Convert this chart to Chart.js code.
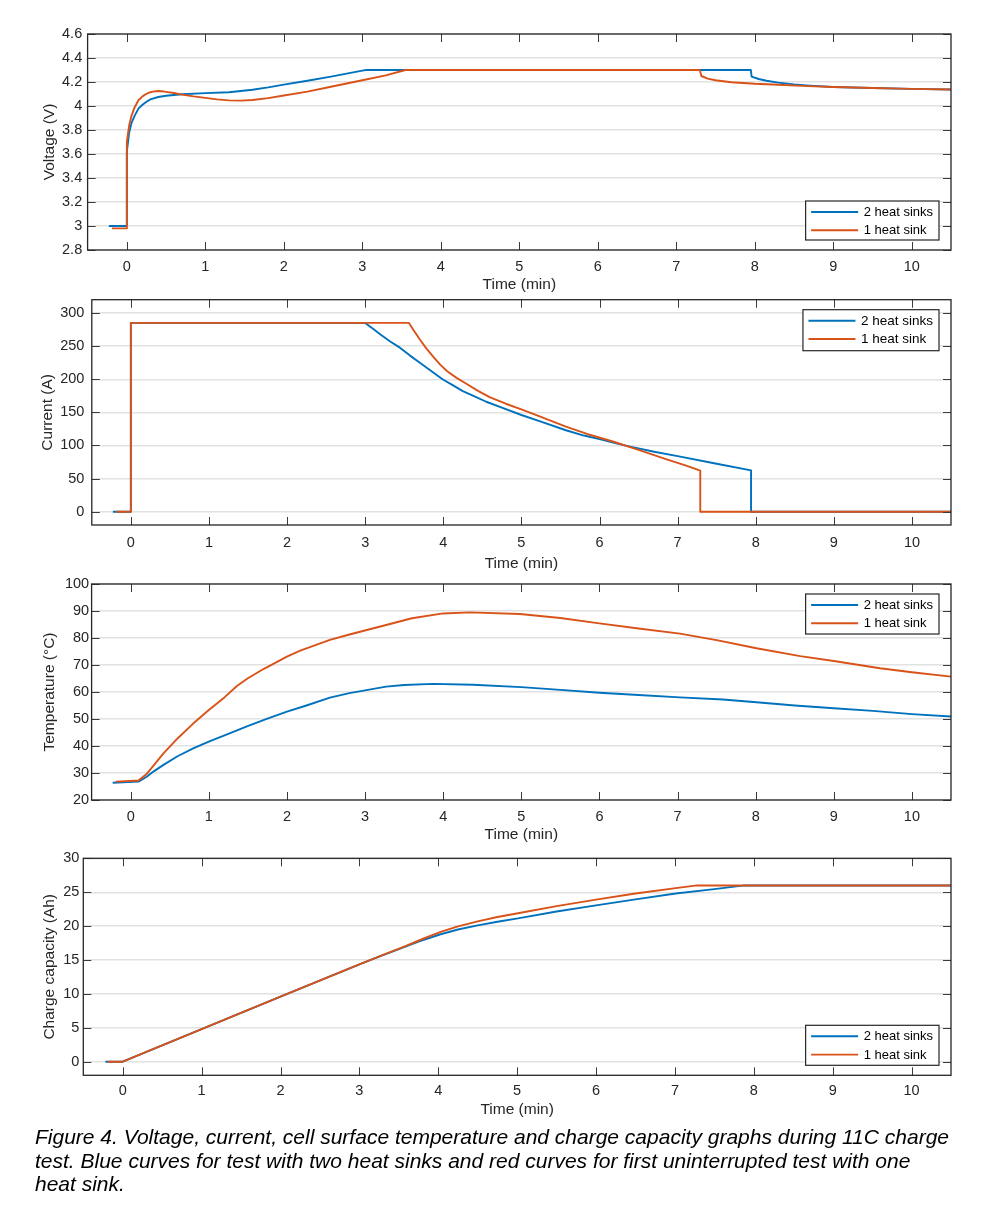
<!DOCTYPE html>
<html><head><meta charset="utf-8">
<script src="https://cdn.jsdelivr.net/npm/chart.js@4.4.1/dist/chart.umd.min.js"></script>
<style>
html,body{margin:0;padding:0;background:#fff;width:1002px;height:1211px;overflow:hidden;}
.c{position:absolute;left:0;width:1002px;}
#cap{position:absolute;left:35px;top:1125px;font:italic 21px "Liberation Sans",Arial,sans-serif;line-height:23.6px;color:#000;white-space:nowrap;}
</style></head><body>
<div class="c" style="top:14px;height:286px"><canvas id="c1"></canvas></div>
<div class="c" style="top:280px;height:299px"><canvas id="c2"></canvas></div>
<div class="c" style="top:564px;height:286px"><canvas id="c3"></canvas></div>
<div class="c" style="top:838px;height:287px"><canvas id="c4"></canvas></div>
<div id="cap">Figure 4. Voltage, current, cell surface temperature and charge capacity graphs during 11C charge<br>test. Blue curves for test with two heat sinks and red curves for first uninterrupted test with one<br>heat sink.</div>
<script>
// ---------- data ----------
const seriesNames = ['2 heat sinks', '1 heat sink'];
const xTicks = [0,1,2,3,4,5,6,7,8,9,10];
const xTickLabels = ['0','1','2','3','4','5','6','7','8','9','10'];

// Voltage (V)
const vTicks = [2.8,3,3.2,3.4,3.6,3.8,4,4.2,4.4,4.6];
const vTickLabels = ['2.8','3','3.2','3.4','3.6','3.8','4','4.2','4.4','4.6'];
const tV2 = [-0.23,0,0,0.03,0.06,0.1,0.15,0.2,0.25,0.3,0.4,0.5,0.7,1.0,1.3,1.6,1.8,2.0,2.3,2.6,2.8,3.0,3.05,7.95,7.96,8.05,8.15,8.3,8.5,8.7,9.0,9.5,10.0,10.5];
const vV2 = [3.00,3.00,3.62,3.78,3.86,3.92,3.98,4.01,4.035,4.055,4.075,4.085,4.098,4.107,4.115,4.135,4.155,4.178,4.21,4.245,4.27,4.295,4.30,4.30,4.245,4.225,4.21,4.195,4.18,4.17,4.158,4.15,4.143,4.138];
const tV1 = [-0.19,0,0,0.03,0.06,0.1,0.15,0.2,0.25,0.3,0.35,0.4,0.45,0.5,0.6,0.7,0.85,1.0,1.15,1.3,1.45,1.6,1.8,2.0,2.3,2.6,3.0,3.3,3.55,7.30,7.32,7.4,7.5,7.7,8.0,8.3,8.6,9.0,9.5,10.0,10.5];
const vV1 = [2.98,2.98,3.70,3.84,3.92,3.99,4.05,4.08,4.102,4.115,4.122,4.125,4.123,4.118,4.108,4.095,4.08,4.068,4.055,4.047,4.045,4.05,4.066,4.087,4.12,4.16,4.215,4.255,4.30,4.30,4.25,4.228,4.215,4.198,4.185,4.177,4.168,4.158,4.15,4.143,4.138];

// Current (A)
const iTicks = [0,50,100,150,200,250,300];
const iTickLabels = ['0','50','100','150','200','250','300'];
const tI2 = [-0.23,0,0,3.0,3.1,3.2,3.32,3.44,3.57,3.7,3.85,3.99,4.12,4.25,4.4,4.55,4.75,5.0,5.25,5.57,5.8,6.0,6.2,6.42,6.7,7.0,7.5,7.94,7.94,10.5];
const iI2 = [0,0,285,285,276,267,257,248,236,225,212,200,191,182,174,166,157,146,136,123,115,109.5,103.5,97.5,90.5,84,72.5,62.5,0,0];
const tI1 = [-0.19,0,0,3.56,3.62,3.7,3.78,3.87,3.96,4.05,4.17,4.29,4.45,4.6,4.8,5.0,5.25,5.57,5.85,6.17,6.5,6.85,7.1,7.29,7.29,10.5];
const iI1 = [0,0,285,285,274,260,247,234,222,212,202,193.5,182,172.5,163,154.5,143,128.5,117,106,93.5,79.5,70,62,0,0];

// Temperature (°C)
const tempTicks = [20,30,40,50,60,70,80,90,100];
const tempTickLabels = ['20','30','40','50','60','70','80','90','100'];
const tT2 = [-0.23,0.1,0.2,0.3,0.42,0.6,0.8,1.0,1.25,1.48,1.75,2.0,2.25,2.55,2.8,3.0,3.27,3.5,3.87,4.38,5.0,5.5,6.0,6.5,7.03,7.58,8.01,8.5,9.0,9.5,10.0,10.5];
const T2 = [26.4,26.8,28.5,30.7,33,36.2,39.1,41.6,44.5,47.2,50.1,52.7,55,57.9,59.6,60.6,62,62.6,63,62.7,61.8,60.8,59.7,58.9,58,57.2,56.2,55,54,53,51.8,50.9];
const tT1 = [-0.19,0.1,0.2,0.3,0.42,0.6,0.8,1.0,1.2,1.36,1.5,1.7,2.0,2.17,2.55,2.8,3.27,3.6,4.0,4.34,4.98,5.5,6.0,6.5,7.03,7.5,8.01,8.57,9.0,9.59,10.0,10.5];
const T1 = [26.8,27.2,29.5,33,37.3,42.8,48.3,53.3,58.0,62.2,65.1,68.5,73.1,75.3,79.3,81.3,84.8,87.3,89.1,89.5,88.9,87.4,85.4,83.5,81.6,79.2,76.2,73.3,71.5,68.8,67.3,65.7];

// Charge capacity (Ah)
const qTicks = [0,5,10,15,20,25,30];
const qTickLabels = ['0','5','10','15','20','25','30'];
const tQ2 = [-0.22,0,1,2,3.0,3.25,3.5,3.75,4.03,4.25,4.5,4.75,5.01,5.5,6.02,6.5,7.01,7.5,7.88,10.5];
const Q2 = [0,0,4.8,9.6,14.35,15.5,16.6,17.7,18.8,19.5,20.1,20.65,21.15,22.15,23.1,23.95,24.8,25.45,26.0,26.0];
const tQ1 = [-0.19,0,1,2,3,3.3,3.56,3.8,4.03,4.25,4.5,4.75,5.01,5.5,6.02,6.5,7.01,7.28,10.5];
const Q1 = [0,0,4.8,9.6,14.35,15.75,16.95,18.1,19.15,19.95,20.7,21.35,21.9,22.95,23.95,24.8,25.6,26.0,26.0];

// ---------- styling ----------
const BLUE = '#0072BD', RED = '#D95319', TXT = '#262626', FONT = '"Liberation Sans", Arial, sans-serif';
const zip = (xs, ys) => xs.map((x, i) => ({x, y: ys[i]}));

const boxPlugin = {
  id: 'matbox',
  afterDatasetsDraw(chart, args, o) {
    const {ctx, chartArea: a, scales: {x, y}} = chart;
    ctx.save();
    ctx.strokeStyle = '#3a3a3a';
    ctx.lineWidth = 1;
    ctx.beginPath();
    x.ticks.forEach(t => {
      const p = Math.round(x.getPixelForValue(t.value)) + 0.5;
      ctx.moveTo(p, a.bottom); ctx.lineTo(p, a.bottom - 8);
      ctx.moveTo(p, a.top); ctx.lineTo(p, a.top + 8);
    });
    y.ticks.forEach(t => {
      const p = Math.round(y.getPixelForValue(t.value)) + 0.5;
      ctx.moveTo(a.left, p); ctx.lineTo(a.left + 8, p);
      ctx.moveTo(a.right, p); ctx.lineTo(a.right - 8, p);
    });
    ctx.stroke();
    ctx.strokeStyle = '#262626';
    ctx.lineWidth = 1.3;
    ctx.strokeRect(a.left, a.top, a.right - a.left, a.bottom - a.top);
    // legend
    ctx.font = o.fontSize + 'px ' + FONT;
    const ds = chart.data.datasets;
    let tw = 0;
    ds.forEach(d => { tw = Math.max(tw, ctx.measureText(d.label).width); });
    const w = 58 + tw + 6, h = o.h;
    const bx = a.right - 12 - w;
    const by = o.pos === 'top' ? a.top + 10 : a.bottom - 10 - h;
    ctx.fillStyle = '#fff';
    ctx.fillRect(bx, by, w, h);
    ctx.strokeStyle = '#262626';
    ctx.lineWidth = 1.2;
    ctx.strokeRect(bx, by, w, h);
    ds.forEach((d, i) => {
      const yy = by + 11 + i * 18.3;
      ctx.strokeStyle = d.borderColor;
      ctx.lineWidth = 1.9;
      ctx.beginPath(); ctx.moveTo(bx + 5.5, yy); ctx.lineTo(bx + 52.5, yy); ctx.stroke();
      ctx.fillStyle = '#000';
      ctx.textBaseline = 'middle';
      ctx.textAlign = 'left';
      ctx.fillText(d.label, bx + 58, yy + 0.5);
    });
    ctx.restore();
  }
};

function makeChart(id, c) {
  return new Chart(document.getElementById(id), {
    type: 'scatter',
    data: {datasets: [
      {label: seriesNames[0], data: zip(c.t2, c.v2), borderColor: BLUE, backgroundColor: BLUE, showLine: true, order: 1},
      {label: seriesNames[1], data: zip(c.t1, c.v1), borderColor: RED, backgroundColor: RED, showLine: true, order: 0}
    ]},
    options: {
      responsive: true, maintainAspectRatio: false, animation: false, events: [],
      devicePixelRatio: 1,
      layout: {padding: {top: c.padTop, right: 51, left: 0, bottom: 0}},
      elements: {point: {radius: 0}, line: {borderWidth: 1.9, tension: 0, fill: false, borderJoinStyle: 'round'}},
      plugins: {legend: {display: false}, tooltip: {enabled: false},
        matbox: {pos: c.legPos, h: c.legH, fontSize: c.legFont}},
      scales: {
        x: {type: 'linear', min: -0.5, max: 10.5,
          afterBuildTicks: s => { s.ticks = xTicks.map(v => ({value: v})); },
          afterFit: s => { s.height = c.xH; },
          grid: {display: false, drawTicks: false}, border: {display: false},
          ticks: {padding: c.xPad, color: TXT, autoSkip: false, maxRotation: 0,
            font: {family: FONT, size: 14.5}, callback: (v, i) => xTickLabels[i]},
          title: {display: true, text: 'Time (min)', color: TXT,
            font: {family: FONT, size: 15.5}, padding: {top: 0, bottom: 5.7}}},
        y: {type: 'linear', min: c.ymin, max: c.ymax,
          afterBuildTicks: s => { s.ticks = c.yt.map(v => ({value: v})); },
          afterFit: s => { s.width = c.left; },
          grid: {color: '#e2e2e2', lineWidth: 1.4, drawTicks: false}, border: {display: false},
          ticks: {padding: c.yPad, color: TXT, autoSkip: false,
            font: {family: FONT, size: 14.5}, callback: (v, i) => c.yl[i]},
          title: {display: true, text: c.ytitle, color: TXT,
            font: {family: FONT, size: 15.5}, padding: {top: c.yTitlePad, bottom: 0}}}
      }
    },
    plugins: [boxPlugin]
  });
}

makeChart('c1', {t2: tV2, v2: vV2, t1: tV1, v1: vV1, ymin: 2.8, ymax: 4.6, yt: vTicks, yl: vTickLabels,
  ytitle: 'Voltage (V)', padTop: 20, xH: 50, left: 87.6, xPad: 8, yPad: 5.4, yTitlePad: 40.7,
  legPos: 'bottom', legH: 39, legFont: 13});
makeChart('c2', {t2: tI2, v2: iI2, t1: tI1, v1: iI1, ymin: -20, ymax: 320, yt: iTicks, yl: iTickLabels,
  ytitle: 'Current (A)', padTop: 19.7, xH: 54, left: 91.8, xPad: 9.6, yPad: 7.4, yTitlePad: 38.2,
  legPos: 'top', legH: 41, legFont: 13.5});
makeChart('c3', {t2: tT2, v2: T2, t1: tT1, v1: T1, ymin: 20, ymax: 100, yt: tempTicks, yl: tempTickLabels,
  ytitle: 'Temperature (°C)', padTop: 20, xH: 50, left: 91.6, xPad: 8, yPad: 2.5, yTitlePad: 40.7,
  legPos: 'top', legH: 40, legFont: 13});
makeChart('c4', {t2: tQ2, v2: Q2, t1: tQ1, v1: Q1, ymin: -2, ymax: 30, yt: qTicks, yl: qTickLabels,
  ytitle: 'Charge capacity (Ah)', padTop: 20.3, xH: 49.7, left: 83.3, xPad: 6.7, yPad: 4, yTitlePad: 40.7,
  legPos: 'bottom', legH: 40, legFont: 13});
</script>
</body></html>
